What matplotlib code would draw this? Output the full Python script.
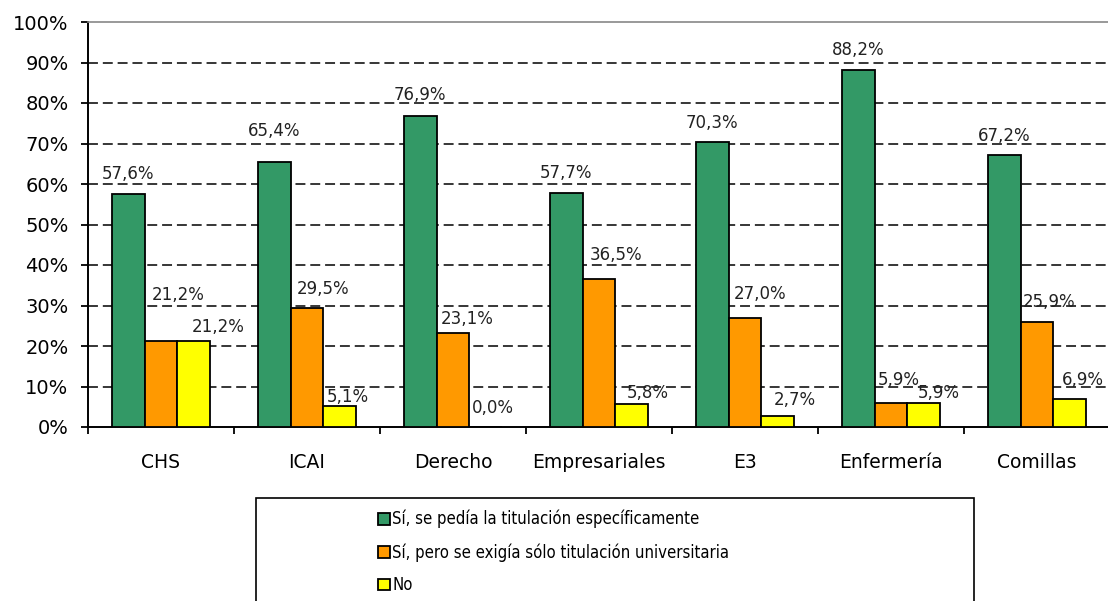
import matplotlib
matplotlib.use('Agg')
import matplotlib.pyplot as plt
import numpy as np
from matplotlib.patches import Rectangle
from matplotlib.ticker import FixedLocator, PercentFormatter

# Data
categories = ['CHS', 'ICAI', 'Derecho', 'Empresariales', 'E3', 'Enfermería', 'Comillas']
series_names = ['Sí, se pedía la titulación específicamente',
                'Sí, pero se exigía sólo titulación universitaria',
                'No']
especifica = [57.6, 65.4, 76.9, 57.7, 70.3, 88.2, 67.2]
universitaria = [21.2, 29.5, 23.1, 36.5, 27.0, 5.9, 25.9]
no = [21.2, 5.1, 0.0, 5.8, 2.7, 5.9, 6.9]

colors = ['#339966', '#FF9900', '#FFFF00']

# label placement tweaks (pixels, relative to bar top centre), like the excel layout
label_dx = [[0] * 7,
            [17, 16, 14, 17, 15, 8, 12],
            [24, 8, 7, 16, 17, 15, 13]]
label_dy = [[20, 31, 21, 20, 19, 20, 19],
            [46, 19, 14, 24, 24, 23, 20],
            [14, 9, 19, 11, 16, 10, 19]]

W, H = 1108, 601
fig = plt.figure(figsize=(W / 100, H / 100), dpi=100)
ax = fig.add_axes([88 / W, (H - 427) / H, (1110 - 88) / W, 405 / H])

x = np.arange(len(categories)) + 0.5
width = 0.224
values = [especifica, universitaria, no]

for i, (vals, col) in enumerate(zip(values, colors)):
    pos = x + (i - 1) * width
    ax.bar(pos, vals, width, color=col, edgecolor='black', linewidth=1.3,
           label=series_names[i], zorder=3)
    for j, v in enumerate(vals):
        ax.annotate(f'{v:.1f}%'.replace('.', ','), (pos[j], v),
                    xytext=(label_dx[i][j] * 0.72, label_dy[i][j] * 0.72),
                    textcoords='offset points', ha='center', va='center',
                    fontsize=12, color='#222222', zorder=4)

ax.set_xlim(0, len(categories))
ax.set_ylim(0, 100)

ax.yaxis.set_major_locator(FixedLocator(np.arange(0, 101, 10)))
ax.yaxis.set_major_formatter(PercentFormatter(decimals=0))
ax.tick_params(axis='y', labelsize=14, length=5, width=1.3, pad=9, direction='out')

ax.set_xticks(x)
ax.set_xticklabels(categories, fontsize=13.5)
ax.set_xticks(np.arange(0, len(categories) + 1), minor=True)
ax.tick_params(axis='x', which='major', length=0, pad=19)
ax.tick_params(axis='x', which='minor', length=5, width=1.3, direction='out')

ax.grid(axis='y', color='black', linestyle=(0, (6.5, 3.2)), linewidth=1.1, zorder=0)
ax.get_ygridlines()[0].set_visible(False)
ax.get_ygridlines()[-1].set_visible(False)
ax.set_axisbelow(True)

ax.spines['left'].set_linewidth(1.4)
ax.spines['bottom'].set_linewidth(1.4)
ax.spines['top'].set_color('#888888')
ax.spines['top'].set_linewidth(1.2)
ax.spines['right'].set_visible(False)

# legend box (bottom cut off by figure edge)
fig.patches.append(Rectangle((256 / W, -0.1), (974 - 256) / W, 0.1 + (H - 498) / H,
                             transform=fig.transFigure, fill=False,
                             edgecolor='black', linewidth=1.2))
fig.legend(loc='upper left', bbox_to_anchor=(378 / W, 1 - 510 / H), frameon=False,
           prop={'family': 'DejaVu Sans', 'stretch': 'condensed', 'size': 12},
           handlelength=0.7, handleheight=0.7, handletextpad=0.15,
           labelspacing=0.88, borderpad=0, borderaxespad=0)

fig.savefig('out.png', dpi=100)
